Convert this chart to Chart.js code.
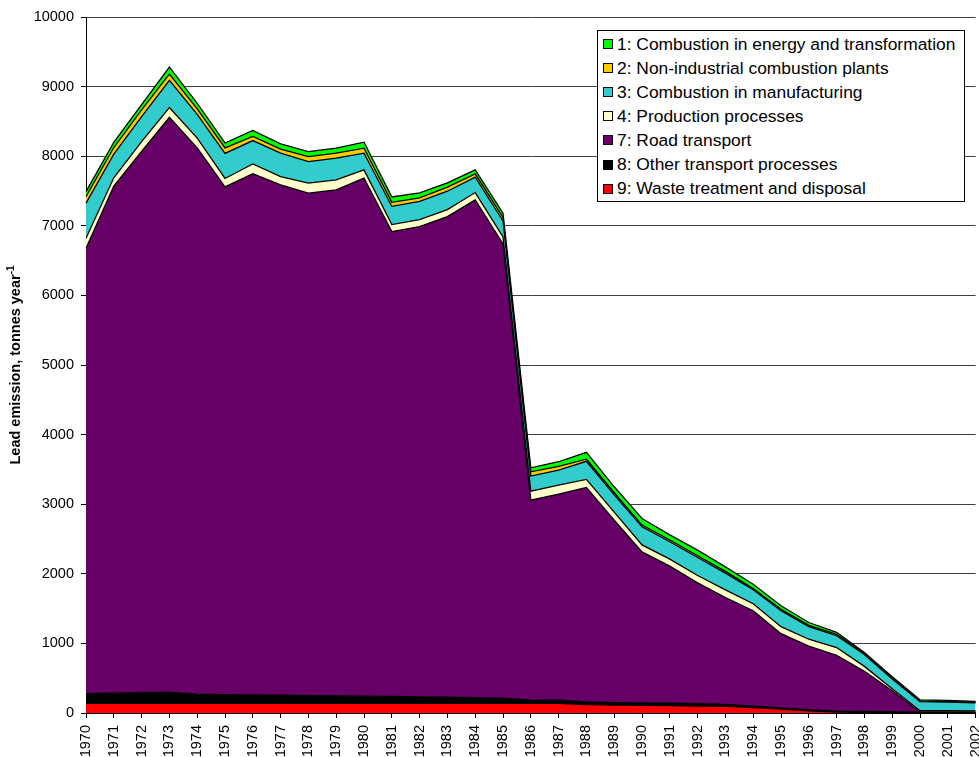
<!DOCTYPE html>
<html lang="en">
<head>
<meta charset="UTF-8">
<title>Lead emission by source sector</title>
<script src="https://cdn.jsdelivr.net/npm/chart.js"></script>
<style>
  html, body { margin: 0; padding: 0; background: #fff; overflow: hidden; }
  #wrap { position: relative; width: 1000px; height: 757px; }
  #legend {
    position: absolute; left: 597px; top: 30px; width: 366px; height: 169px;
    background: #fff; border: 1px solid #000; padding-top: 1px; box-sizing: content-box;
    font: 17.4px "Liberation Sans", Arial, sans-serif; color: #000;
  }
  #legend .row { height: 24.1px; display: flex; align-items: center; white-space: nowrap; }
  #legend .box { width: 8px; height: 8px; border: 1px solid #000; margin: 0 4px 0 5px; }
</style>
</head>
<body>
<div id="wrap">
  <canvas id="leadChart" width="1000" height="757"></canvas>
  <div id="legend"></div>
</div>
<script>
// years on the x axis
const years = ['1970','1971','1972','1973','1974','1975','1976','1977','1978','1979',
               '1980','1981','1982','1983','1984','1985','1986','1987','1988','1989',
               '1990','1991','1992','1993','1994','1995','1996','1997','1998','1999',
               '2000','2001','2002'];

// emissions per source sector, tonnes/year
const waste = [140,140,140,140,140,140,140,140,140,140,140,140,140,140,140,140,140,140,
               120,115,110,108,100,95,78,55,32,12,8,5,2,2,2];
const otherTransport = [138,145,152,155,130,125,120,115,108,105,102,98,92,88,82,75,50,43,
                        38,35,34,32,35,27,20,17,16,16,14,10,10,10,10];
const road = [6400,7285,7778,8265,7850,7295,7487,7334,7221,7271,7443,6679,6757,6905,7151,6525,
              2869,2962,3083,2620,2171,1970,1735,1538,1372,1068,912,802,578,305,0,0,0];
const production = [144,120,140,140,140,120,143,119,144,144,119,100,100,100,105,100,129,129,
                    115,115,100,100,105,110,100,100,100,110,70,30,20,20,18];
const manufacturing = [503,340,360,390,340,360,335,336,310,312,240,263,263,264,221,230,216,216,
                       260,250,260,250,260,240,200,230,180,170,170,140,130,125,115];
const nonIndustrial = [95,95,95,90,80,80,58,57,72,72,72,58,49,58,48,50,62,55,
                       30,30,25,25,25,25,20,20,20,20,15,10,10,8,8];
const energy = [72,75,75,100,80,70,86,77,72,72,86,77,72,62,57,60,57,65,
                100,85,95,75,80,65,60,50,40,30,15,20,18,15,12];

const yTicks = [0,1000,2000,3000,4000,5000,6000,7000,8000,9000,10000];

// stacking order, bottom first
const series = [
  { name: '9: Waste treatment and disposal', data: waste, color: '#FF0000' },
  { name: '8: Other transport processes', data: otherTransport, color: '#000000' },
  { name: '7: Road transport', data: road, color: '#660066' },
  { name: '4: Production processes', data: production, color: '#FFFFCC' },
  { name: '3: Combustion in manufacturing', data: manufacturing, color: '#33CCCC' },
  { name: '2: Non-industrial combustion plants', data: nonIndustrial, color: '#FFCC00' },
  { name: '1: Combustion in energy and transformation', data: energy, color: '#00FF00' }
];

Chart.defaults.font.family = '"Liberation Sans", Arial, sans-serif';
Chart.defaults.font.size = 14.5;
Chart.defaults.color = '#000';

// y axis title with superscript -1
const yTitle = {
  id: 'yTitle',
  afterDraw(chart) {
    const ctx = chart.ctx;
    const a = chart.chartArea;
    const main = 'Lead emission, tonnes year';
    const sup = '-1';
    const mainFont = 'bold 14.5px "Liberation Sans", Arial, sans-serif';
    const supFont = 'bold 10px "Liberation Sans", Arial, sans-serif';
    ctx.save();
    ctx.translate(16, (a.top + a.bottom) / 2);
    ctx.rotate(-Math.PI / 2);
    ctx.fillStyle = '#000';
    ctx.textBaseline = 'middle';
    ctx.font = mainFont;
    const w1 = ctx.measureText(main).width;
    ctx.font = supFont;
    const w2 = ctx.measureText(sup).width;
    const x0 = -(w1 + w2) / 2;
    ctx.font = mainFont;
    ctx.fillText(main, x0, 0);
    ctx.font = supFont;
    ctx.fillText(sup, x0 + w1, -5);
    ctx.restore();
  }
};

const ctx = document.getElementById('leadChart').getContext('2d');
new Chart(ctx, {
  type: 'line',
  data: {
    labels: years,
    datasets: series.map((s, i) => ({
      label: s.name,
      data: s.data,
      backgroundColor: s.color,
      borderColor: '#000',
      borderWidth: 1.3,
      pointRadius: 0,
      tension: 0,
      fill: i === 0 ? 'origin' : '-1'
    }))
  },
  options: {
    responsive: false,
    animation: false,
    devicePixelRatio: 1,
    layout: { padding: { top: 17, right: 22, bottom: 0, left: 0 } },
    plugins: { legend: { display: false }, tooltip: { enabled: false } },
    scales: {
      x: {
        offset: false,
        grid: { drawOnChartArea: false, tickLength: 5, tickColor: '#000' },
        border: { color: '#000' },
        ticks: { autoSkip: false, minRotation: 90, maxRotation: 90, padding: 7 },
        afterFit(s) { s.height = 44; }
      },
      y: {
        stacked: true,
        min: 0, max: 10000,
        afterBuildTicks(s) { s.ticks = yTicks.map(v => ({ value: v })); },
        grid: { color: '#404040', tickLength: 5, tickColor: '#000' },
        border: { color: '#000' },
        ticks: { padding: 7, callback: v => String(v) },
        afterFit(s) { s.width = 86; }
      }
    }
  },
  plugins: [yTitle]
});

// legend, top series first
const legend = document.getElementById('legend');
series.slice().reverse().forEach(s => {
  const row = document.createElement('div');
  row.className = 'row';
  const box = document.createElement('span');
  box.className = 'box';
  box.style.background = s.color;
  const txt = document.createElement('span');
  txt.textContent = s.name;
  row.appendChild(box);
  row.appendChild(txt);
  legend.appendChild(row);
});
</script>
</body>
</html>
